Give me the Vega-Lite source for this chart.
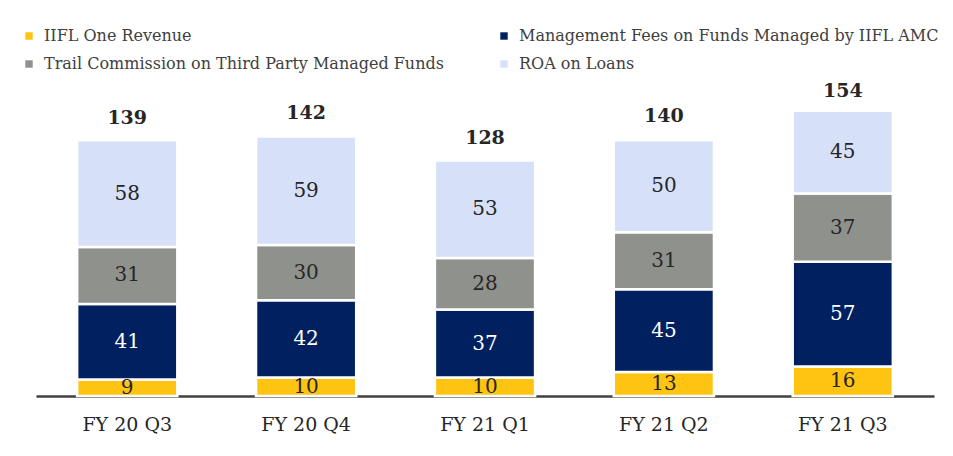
{
  "$schema": "https://vega.github.io/schema/vega-lite/v6.json",
  "width": 898,
  "height": 322,
  "autosize": {"type": "none"},
  "padding": {"left": 36, "top": 74, "right": 19, "bottom": 60},
  "background": "white",
  "config": {
    "view": {"stroke": null},
    "font": "DejaVu Serif",
    "text": {"font": "DejaVu Serif"}
  },
  "datasets": {
    "segments": [
      {"quarter": "FY 20 Q3", "series": "IIFL One Revenue", "ord": 1, "value": 9},
      {"quarter": "FY 20 Q3", "series": "Management Fees on Funds Managed by IIFL AMC", "ord": 2, "value": 41},
      {"quarter": "FY 20 Q3", "series": "Trail Commission on Third Party Managed Funds", "ord": 3, "value": 31},
      {"quarter": "FY 20 Q3", "series": "ROA on Loans", "ord": 4, "value": 58},
      {"quarter": "FY 20 Q4", "series": "IIFL One Revenue", "ord": 1, "value": 10},
      {"quarter": "FY 20 Q4", "series": "Management Fees on Funds Managed by IIFL AMC", "ord": 2, "value": 42},
      {"quarter": "FY 20 Q4", "series": "Trail Commission on Third Party Managed Funds", "ord": 3, "value": 30},
      {"quarter": "FY 20 Q4", "series": "ROA on Loans", "ord": 4, "value": 59},
      {"quarter": "FY 21 Q1", "series": "IIFL One Revenue", "ord": 1, "value": 10},
      {"quarter": "FY 21 Q1", "series": "Management Fees on Funds Managed by IIFL AMC", "ord": 2, "value": 37},
      {"quarter": "FY 21 Q1", "series": "Trail Commission on Third Party Managed Funds", "ord": 3, "value": 28},
      {"quarter": "FY 21 Q1", "series": "ROA on Loans", "ord": 4, "value": 53},
      {"quarter": "FY 21 Q2", "series": "IIFL One Revenue", "ord": 1, "value": 13},
      {"quarter": "FY 21 Q2", "series": "Management Fees on Funds Managed by IIFL AMC", "ord": 2, "value": 45},
      {"quarter": "FY 21 Q2", "series": "Trail Commission on Third Party Managed Funds", "ord": 3, "value": 31},
      {"quarter": "FY 21 Q2", "series": "ROA on Loans", "ord": 4, "value": 50},
      {"quarter": "FY 21 Q3", "series": "IIFL One Revenue", "ord": 1, "value": 16},
      {"quarter": "FY 21 Q3", "series": "Management Fees on Funds Managed by IIFL AMC", "ord": 2, "value": 57},
      {"quarter": "FY 21 Q3", "series": "Trail Commission on Third Party Managed Funds", "ord": 3, "value": 37},
      {"quarter": "FY 21 Q3", "series": "ROA on Loans", "ord": 4, "value": 45}
    ],
    "totals": [
      {"quarter": "FY 20 Q3", "total": 139},
      {"quarter": "FY 20 Q4", "total": 142},
      {"quarter": "FY 21 Q1", "total": 128},
      {"quarter": "FY 21 Q2", "total": 140},
      {"quarter": "FY 21 Q3", "total": 154}
    ]
  },
  "layer": [
    {
      "data": {"name": "segments"},
      "mark": {"type": "bar", "stroke": "white", "strokeWidth": 2.5},
      "encoding": {
        "x": {
          "field": "quarter", "type": "nominal", "sort": null,
          "scale": {"paddingInner": 0.44, "paddingOuter": 0.23},
          "axis": {
            "title": null, "labelAngle": 0, "ticks": false,
            "domainColor": "#404040", "domainWidth": 2.5,
            "labelFont": "DejaVu Serif", "labelFontSize": 19, "labelColor": "#262626",
            "labelPadding": 19
          }
        },
        "y": {
          "field": "value", "type": "quantitative", "stack": "zero",
          "scale": {"domain": [0, 175], "nice": false},
          "axis": null
        },
        "color": {
          "field": "series", "type": "nominal",
          "scale": {
            "domain": ["IIFL One Revenue", "Management Fees on Funds Managed by IIFL AMC", "Trail Commission on Third Party Managed Funds", "ROA on Loans"],
            "range": ["#FFC311", "#002060", "#8F918D", "#D6E1F9"]
          },
          "legend": {
            "title": null, "orient": "none", "legendX": -15, "legendY": -46,
            "direction": "horizontal", "columns": 2, "columnPadding": 52, "rowPadding": 12,
            "symbolType": "square", "symbolSize": 55, "symbolStrokeWidth": 0,
            "labelFont": "DejaVu Serif", "labelFontSize": 16, "labelColor": "#404040",
            "labelLimit": 700, "labelOffset": 7
          }
        },
        "order": {"field": "ord", "type": "quantitative"}
      }
    },
    {
      "data": {"name": "segments"},
      "transform": [
        {"stack": "value", "groupby": ["quarter"], "sort": [{"field": "ord"}], "as": ["y0", "y1"]},
        {"calculate": "(datum.y0 + datum.y1) / 2", "as": "mid"}
      ],
      "mark": {"type": "text", "fontSize": 20, "baseline": "middle", "font": "DejaVu Serif"},
      "encoding": {
        "x": {"field": "quarter", "type": "nominal", "sort": null},
        "y": {"field": "mid", "type": "quantitative"},
        "text": {"field": "value", "type": "quantitative"},
        "color": {
          "condition": {"test": "datum.series === 'Management Fees on Funds Managed by IIFL AMC'", "value": "white"},
          "value": "#262626"
        }
      }
    },
    {
      "data": {"name": "totals"},
      "mark": {"type": "text", "fontSize": 19, "fontWeight": "bold", "baseline": "alphabetic", "dy": -16, "color": "#262626", "font": "DejaVu Serif"},
      "encoding": {
        "x": {"field": "quarter", "type": "nominal", "sort": null},
        "y": {"field": "total", "type": "quantitative"},
        "text": {"field": "total", "type": "quantitative"}
      }
    }
  ]
}
